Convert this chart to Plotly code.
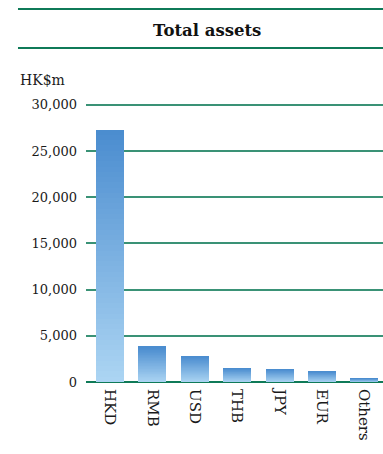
import plotly.graph_objects as go

# Total assets by currency, HK$ million
currencies = ["HKD", "RMB", "USD", "THB", "JPY", "EUR", "Others"]
assets = [27300, 3800, 2800, 1500, 1400, 1150, 400]

y_ticks = [0, 5000, 10000, 15000, 20000, 25000, 30000]
y_tick_labels = ["0", "5,000", "10,000", "15,000", "20,000", "25,000", "30,000"]

TOP = (74, 140, 207)      # colour at the top of each bar
BOTTOM = (172, 213, 243)  # colour at the base of each bar
GREEN = "#0f7a58"
GRID = "#3a9276"
FONT = "DejaVu Serif"

# Each bar is built from thin stacked slices so it fades from light to dark
N_SLICES = 48


def blend(t):
    r, g, b = (round(BOTTOM[i] + (TOP[i] - BOTTOM[i]) * t) for i in range(3))
    return f"rgb({r},{g},{b})"


fig = go.Figure()
for k in range(N_SLICES):
    fig.add_trace(go.Bar(
        x=currencies,
        y=[v / N_SLICES for v in assets],
        marker=dict(color=blend((k + 0.5) / N_SLICES), line=dict(width=0)),
        hoverinfo="skip",
        showlegend=False,
    ))

fig.update_layout(
    width=383,
    height=454,
    margin=dict(l=86, r=0, t=102, b=72),
    paper_bgcolor="white",
    plot_bgcolor="white",
    barmode="stack",
    bargap=0.34,
    font=dict(family=FONT, color="#1a1a1a", size=13),
    xaxis=dict(
        type="category",
        range=[-0.566, 6.44],
        tickangle=90,
        tickfont=dict(size=15, family=FONT),
        showgrid=False,
        showline=False,
        ticks="",
        ticklabelstandoff=6,
    ),
    yaxis=dict(
        range=[0, 30300],
        tickvals=y_ticks,
        ticktext=y_tick_labels,
        tickfont=dict(size=13, family=FONT),
        showgrid=True,
        gridcolor=GRID,
        gridwidth=1.5,
        zeroline=True,
        zerolinecolor=GREEN,
        zerolinewidth=2,
        ticks="",
        ticklabelstandoff=8,
    ),
    shapes=[
        dict(type="line", xref="paper", yref="paper",
             x0=-0.229, x1=1.0, y0=1.3321, y1=1.3321,
             line=dict(color=GREEN, width=2)),
        dict(type="line", xref="paper", yref="paper",
             x0=-0.229, x1=1.0, y0=1.1929, y1=1.1929,
             line=dict(color=GREEN, width=2)),
    ],
    annotations=[
        dict(text="<b>Total assets</b>", xref="paper", yref="paper",
             x=0.4074, y=1.2571, xanchor="center", yanchor="middle",
             showarrow=False, font=dict(size=16.5, family=FONT, color="#111111")),
        dict(text="HK$m", xref="paper", yref="paper",
             x=-0.229, y=1.0786, xanchor="left", yanchor="middle",
             showarrow=False, font=dict(size=14, family=FONT, color="#1a1a1a")),
    ],
)

fig.write_html("out.html")
